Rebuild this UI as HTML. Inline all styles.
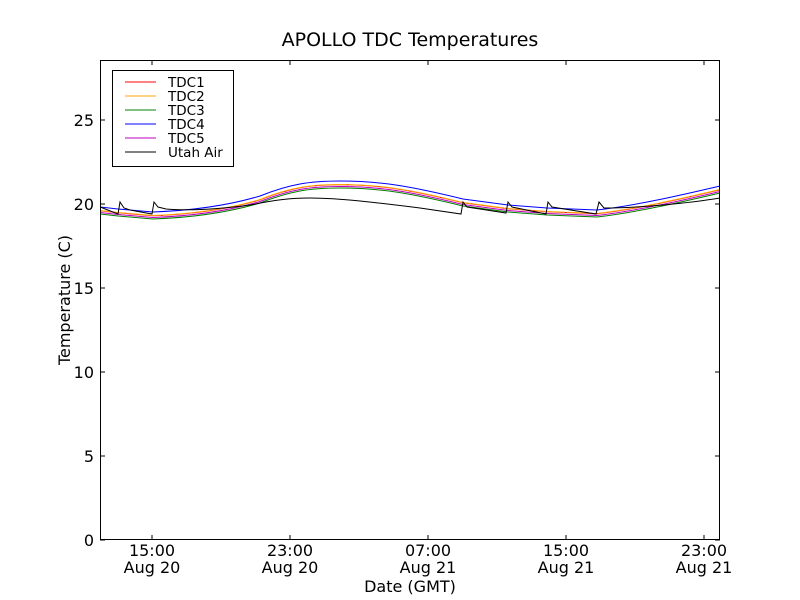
<!DOCTYPE html>
<html><head><meta charset="utf-8"><style>body{margin:0;background:#fff}svg{display:block}text{font-family:"DejaVu Sans","Liberation Sans",sans-serif}</style></head>
<body>
<svg width="800" height="600" viewBox="0 0 800 600">
<rect width="800" height="600" fill="#fff"/>
<defs>
<clipPath id="c"><rect x="100" y="60" width="620" height="480"/></clipPath>
<path id="b" d="M100,207 L118,209 L153,212 C180,211 220,208 260,196 C290,184 310,181 340,181 C380,181 410,186 463,199 L508,205 L547,208 L597,210 C640,205 690,193 720,186"/>
</defs>
<g clip-path="url(#c)" fill="none" stroke-width="1">
<use href="#b" stroke="#008000" transform="translate(0,7)"/>
<use href="#b" stroke="#bf00bf" transform="translate(0,5.5)"/>
<use href="#b" stroke="#ff0000" transform="translate(0,3.8)"/>
<use href="#b" stroke="#ffa500" transform="translate(0,3.5)" stroke-dasharray="30,1.5"/>
<use href="#b" stroke="#0000ff"/>
<path stroke="#000" d="M100,207 L118,214 L120,202 L124,208 L130,210 L152,214 L154,202 L158,207 L166,209 C190,211 220,209 250,205 C275,200 290,198 310,198 C340,198 380,203 420,208 L461,214 L463,202 L467,207 L480,209 L506,213 L508,202 L512,207 L546,214 L548,202 L552,207 L596,214 L599,202 L604,208 C640,208 690,203 720,198"/>
</g>
<rect x="100.5" y="60.5" width="619" height="479" fill="none" stroke="#000"/>
<g stroke="#000">
<path d="M100,540h5M100,456h5M100,372h5M100,288h5M100,204h5M100,120h5M720,540h-5M720,456h-5M720,372h-5M720,288h-5M720,204h-5M720,120h-5"/>
<path d="M152,540v-5M290,540v-5M428,540v-5M566,540v-5M704,540v-5M152,60v5M290,60v5M428,60v5M566,60v5M704,60v5"/>
</g>
<g font-size="16" text-anchor="end">
<text x="94" y="546">0</text><text x="94" y="462">5</text><text x="94" y="378">10</text><text x="94" y="294">15</text><text x="94" y="210">20</text><text x="94" y="126">25</text>
</g>
<g font-size="16" text-anchor="middle">
<text x="152" y="556">15:00</text><text x="152" y="573">Aug 20</text>
<text x="290" y="556">23:00</text><text x="290" y="573">Aug 20</text>
<text x="428" y="556">07:00</text><text x="428" y="573">Aug 21</text>
<text x="566" y="556">15:00</text><text x="566" y="573">Aug 21</text>
<text x="704" y="556">23:00</text><text x="704" y="573">Aug 21</text>
<text x="410" y="592">Date (GMT)</text>
<text x="410" y="46" font-size="19">APOLLO TDC Temperatures</text>
<text transform="translate(70,300) rotate(-90)">Temperature (C)</text>
</g>
<rect x="112.5" y="70.5" width="121" height="96" fill="#fff" stroke="#000"/>
<g stroke-width="1">
<path d="M125,82h31" stroke="#ff0000"/><path d="M125,96h31" stroke="#ffa500"/><path d="M125,110h31" stroke="#008000"/><path d="M125,124h31" stroke="#0000ff"/><path d="M125,138h31" stroke="#bf00bf"/><path d="M125,152h31" stroke="#000"/>
</g>
<g font-size="13.5">
<text x="168" y="87">TDC1</text><text x="168" y="101">TDC2</text><text x="168" y="115">TDC3</text><text x="168" y="129">TDC4</text><text x="168" y="143">TDC5</text><text x="168" y="157">Utah Air</text>
</g>
</svg>
</body></html>
